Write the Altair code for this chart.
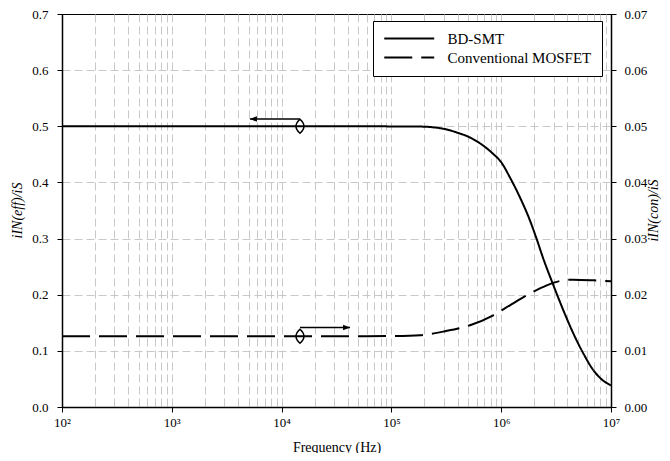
import altair as alt
import pandas as pd

# ---- data ----
freq_bd = [1e2, 1e3, 1e4, 5e4, 1e5, 1.82e5, 3.08e5, 3.93e5, 5.2e5, 6.87e5, 8.47e5,
           1e6, 1.2e6, 1.48e6, 1.83e6, 2.1e6, 2.42e6, 2.99e6, 3.68e6, 4.54e6,
           5.6e6, 6.9e6, 8.51e6, 1e7]
val_bd = [0.5, 0.5, 0.5, 0.5, 0.4998, 0.4995, 0.495, 0.489, 0.480, 0.4655, 0.4507,
          0.436, 0.409, 0.3736, 0.332, 0.2997, 0.264, 0.2167, 0.1723, 0.131,
          0.0954, 0.0657, 0.0467, 0.0385]

freq_conv = [1e2, 1e3, 1e4, 5e4, 1e5, 1.82e5, 3.08e5, 5.2e5, 8.47e5, 1.2e6,
             1.83e6, 2.6e6, 3.43e6, 4.54e6, 6.9e6, 1e7]
val_conv = [0.0126, 0.0126, 0.0126, 0.0126, 0.01265, 0.0128, 0.0135, 0.01457,
            0.01634, 0.01812, 0.0202, 0.02167, 0.02244, 0.02268, 0.02256, 0.02238]

series_names = ["BD-SMT", "Conventional MOSFET"]

# annotation markers (left-axis units)
marker_f = [1.47e4, 1.47e4]
marker_v = [0.5, 0.126]
arrow_start_f = [1.47e4, 1.47e4]
arrow_end_f = [5.15e3, 4.2e4]
arrow_v = [0.513, 0.1416]

x_grid_values = [m * 10 ** k for k in range(2, 7) for m in range(1, 10)] + [1e7]
decades = [100, 1000, 10000, 100000, 1000000, 10000000]
y_left_ticks = [0.0, 0.1, 0.2, 0.3, 0.4, 0.5, 0.6, 0.7]
y_right_ticks = [0.0, 0.01, 0.02, 0.03, 0.04, 0.05, 0.06, 0.07]

FONT = "Liberation Serif, Times New Roman, DejaVu Serif, serif"
GRID = "#c8c8c8"

df_bd = pd.DataFrame({"f": freq_bd, "v": val_bd, "series": series_names[0]})
df_conv = pd.DataFrame({"f": freq_conv, "v": val_conv, "series": series_names[1]})
df_mark = pd.DataFrame({"f": marker_f, "v": marker_v})
df_arrow = pd.DataFrame({"f": arrow_start_f, "f2": arrow_end_f, "v": arrow_v})
df_head_l = df_arrow.iloc[[0]]
df_head_r = df_arrow.iloc[[1]]

label_expr = ("datum.value == 100 ? '10²' : datum.value == 1000 ? '10³' : "
              "datum.value == 10000 ? '10⁴' : datum.value == 100000 ? '10⁵' : "
              "datum.value == 1000000 ? '10⁶' : datum.value == 10000000 ? '10⁷' : ''")

x_scale = alt.Scale(type="log", domain=[100, 1e7], nice=False)
x_axis = alt.Axis(
    values=x_grid_values, labelExpr=label_expr, title="Frequency (Hz)",
    tickOpacity={"condition": {"test": "indexof(%s, datum.value) >= 0" % decades, "value": 1}, "value": 0},
    grid=True, gridColor=GRID, gridDash=[8, 4], gridWidth=1,
    gridOpacity={"condition": {"test": "datum.value <= 100 || datum.value >= 10000000", "value": 0}, "value": 1},
    tickSize=5, tickColor="black", domainColor="black", domainWidth=1.5,
    labelFont=FONT, labelFontSize=13, labelPadding=4, labelFlush=False, labelOverlap=False,
    titleFont=FONT, titleFontSize=14, titleFontWeight="normal", titleY=44,
    titleBaseline="alphabetic",
)
x_enc = alt.X("f:Q", scale=x_scale, axis=x_axis)

y_left = alt.Y(
    "v:Q", scale=alt.Scale(domain=[0, 0.7], nice=False),
    axis=alt.Axis(values=y_left_ticks, format=".1f", title="iIN(eff)/iS",
                  grid=True, gridColor=GRID, gridDash=[8, 4], gridWidth=1,
                  gridOpacity={"condition": {"test": "datum.value <= 0.0001 || datum.value >= 0.6999", "value": 0}, "value": 1},
                  tickSize=5, tickColor="black", domainColor="black", domainWidth=1.5,
                  labelFont=FONT, labelFontSize=13, labelPadding=9,
                  titleFont=FONT, titleFontSize=14, titleFontStyle="italic",
                  titleFontWeight="normal",
                  titleAngle=270, titleX=-45, titleY=196, titleAlign="center",
                  titleBaseline="middle"),
)
y_right = alt.Y(
    "v:Q", scale=alt.Scale(domain=[0, 0.07], nice=False),
    axis=alt.Axis(values=y_right_ticks, format=".2f", title="iIN(con)/iS", orient="right",
                  grid=False, tickSize=5, tickColor="black", domainColor="black",
                  domainWidth=1.5, labelFont=FONT, labelFontSize=13, labelPadding=8,
                  titleFont=FONT, titleFontSize=14, titleFontStyle="italic",
                  titleFontWeight="normal",
                  titleAngle=270, titleX=42, titleY=196, titleAlign="center",
                  titleBaseline="middle"),
)

dash = alt.StrokeDash(
    "series:N",
    scale=alt.Scale(domain=series_names, range=[[1, 0], [28, 9]]),
    legend=alt.Legend(title=None, orient="none", legendX=311, legendY=7,
                      padding=10, strokeColor="black", fillColor="white",
                      labelFont=FONT, labelFontSize=15, labelColor="black",
                      symbolType="M-1,0L7,0", symbolSize=156, symbolStrokeWidth=2,
                      symbolStrokeColor="black", labelOffset=49.5, rowPadding=3),
)

line_bd = alt.Chart(df_bd).mark_line(color="black", strokeWidth=2, interpolate="monotone").encode(
    x=x_enc, y=y_left, strokeDash=dash)

markers = alt.Chart(df_mark).mark_point(
    shape="M0,-1Q1.14,0,0,1Q-1.14,0,0,-1Z", size=196, color="black",
    filled=False, strokeWidth=1.5, opacity=1).encode(x=x_enc, y=y_left)

arrows = alt.Chart(df_arrow).mark_rule(color="black", strokeWidth=1.3).encode(
    x=x_enc, x2="f2:Q", y=y_left)

head_l = alt.Chart(df_head_l).mark_point(
    shape="M0,0L2,-0.8L2,0.8Z", size=49, color="black", filled=True, opacity=1).encode(
    x=alt.X("f2:Q", scale=x_scale, axis=x_axis), y=y_left)
head_r = alt.Chart(df_head_r).mark_point(
    shape="M0,0L-2,-0.8L-2,0.8Z", size=49, color="black", filled=True, opacity=1).encode(
    x=alt.X("f2:Q", scale=x_scale, axis=x_axis), y=y_left)

left_layer = alt.layer(line_bd, arrows, markers, head_l, head_r)

line_conv = alt.Chart(df_conv).mark_line(color="black", strokeWidth=2, interpolate="monotone").encode(
    x=x_enc, y=y_right, strokeDash=dash)

chart = alt.layer(left_layer, line_conv).resolve_scale(y="independent").properties(
    width=549, height=393,
    autosize=alt.AutoSizeParams(type="none"),
    padding={"left": 54, "top": 6, "right": 51, "bottom": 46},
).configure(font=FONT).configure_view(stroke="black", strokeWidth=1).configure_axis(
    labelColor="black", titleColor="black", labelFont=FONT, titleFont=FONT
).configure_legend(labelFont=FONT)

chart.save("out.html", embed_options={"renderer": "svg", "actions": False})
